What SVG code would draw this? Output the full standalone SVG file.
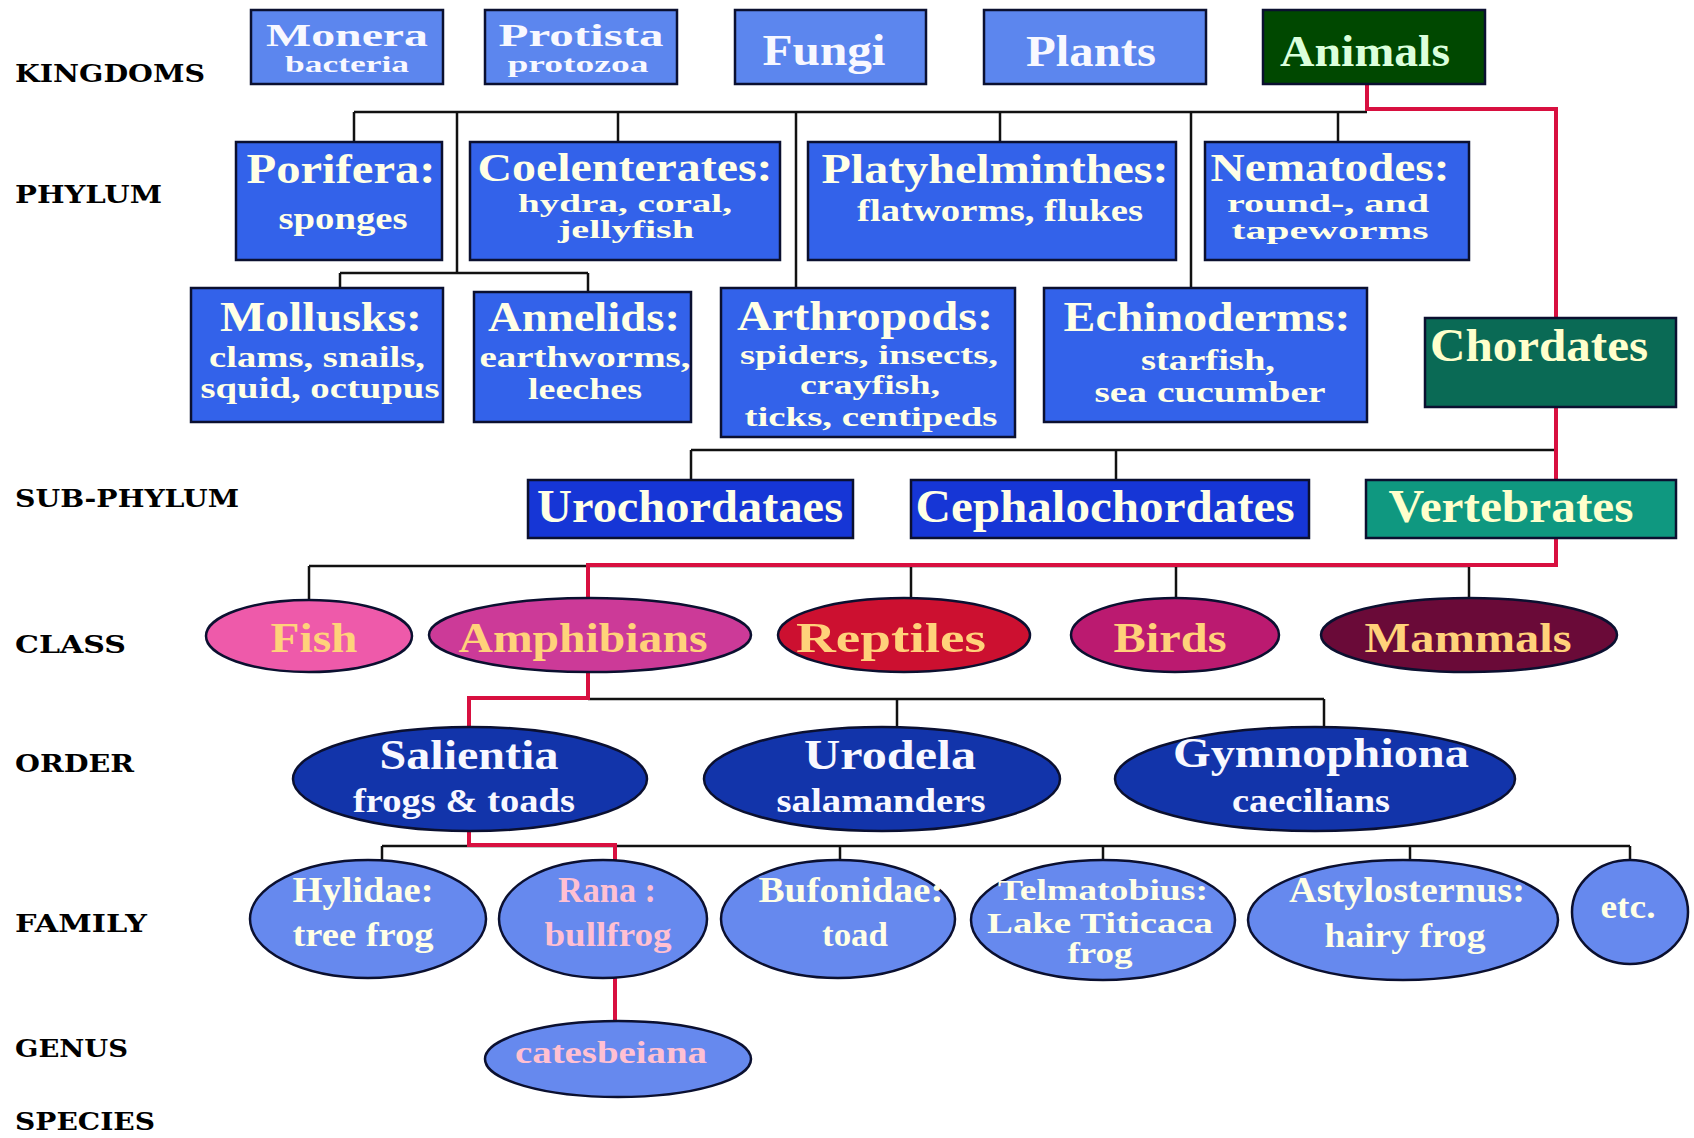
<svg xmlns="http://www.w3.org/2000/svg" width="1694" height="1138" viewBox="0 0 1694 1138">
<style>
.box{stroke:#0b1030;stroke-width:2.5}
.k{fill:#5c86ee}
.p{fill:#3362ea}
.sp{fill:#1636d6}
.fam{fill:#6689ee}
.ord{fill:#1234aa}
.blk{fill:none;stroke:#111;stroke-width:2.5}
.red{fill:none;stroke:#d81040;stroke-width:4}
text{font-family:"Liberation Serif","Times New Roman",serif;font-weight:bold;text-anchor:middle}
.w{fill:#f8f8ff}
.y{fill:#ffffe6}
.c{fill:#ffd27a}
.pk{fill:#ffc0d2}
.lbl{font-family:"DejaVu Serif",serif;font-weight:900;fill:#000;text-anchor:start;font-size:25px}
</style>
<rect width="1694" height="1138" fill="#ffffff"/>

<g id="row-labels">
<text class="lbl" x="15" y="82" textLength="190" lengthAdjust="spacingAndGlyphs">KINGDOMS</text>
<text class="lbl" x="15" y="203" textLength="147" lengthAdjust="spacingAndGlyphs">PHYLUM</text>
<text class="lbl" x="15" y="507" textLength="224" lengthAdjust="spacingAndGlyphs">SUB-PHYLUM</text>
<text class="lbl" x="15" y="653" textLength="111" lengthAdjust="spacingAndGlyphs">CLASS</text>
<text class="lbl" x="15" y="772" textLength="119" lengthAdjust="spacingAndGlyphs">ORDER</text>
<text class="lbl" x="15" y="932" textLength="132" lengthAdjust="spacingAndGlyphs">FAMILY</text>
<text class="lbl" x="15" y="1057" textLength="113" lengthAdjust="spacingAndGlyphs">GENUS</text>
<text class="lbl" x="15" y="1130" textLength="140" lengthAdjust="spacingAndGlyphs">SPECIES</text>
</g>

<g id="connectors">
<path class="blk" d="M354,112 H1367 M354,112 V142 M457,112 V273 M618,112 V142 M796,112 V288 M1000,112 V142 M1191,112 V288 M1338,112 V142"/>
<path class="blk" d="M340,273 H588 M340,273 V288 M588,273 V292"/>
<path class="blk" d="M691,450 H1556 M691,450 V480 M1116,450 V480"/>
<path class="blk" d="M309,566 H1469 M309,566 V600 M911,566 V599 M1176,566 V599 M1469,566 V599"/>
<path class="blk" d="M588,699 H1324 M897,699 V727 M1324,699 V727"/>
<path class="blk" d="M382,846 H1630 M382,846 V861 M840,846 V861 M1103,846 V861 M1410,846 V861 M1630,846 V861"/>
<path class="red" d="M1367,84 V109 H1556 V565 H588 V598"/>
<path class="red" d="M588,672 V698 H469 V727"/>
<path class="red" d="M469,832 V845 H615 V861"/>
<path class="red" d="M615,978 V1022"/>
</g>

<g id="monera"><rect class="box k" x="251" y="10" width="192" height="74"/>
<text class="w" x="347" y="46" font-size="32" textLength="162" lengthAdjust="spacingAndGlyphs">Monera</text>
<text class="w" x="347" y="72" font-size="24" textLength="124" lengthAdjust="spacingAndGlyphs">bacteria</text></g>
<g id="protista"><rect class="box k" x="485" y="10" width="192" height="74"/>
<text class="w" x="581" y="46" font-size="32" textLength="165" lengthAdjust="spacingAndGlyphs">Protista</text>
<text class="w" x="578" y="72" font-size="24" textLength="141" lengthAdjust="spacingAndGlyphs">protozoa</text></g>
<g id="fungi"><rect class="box k" x="735" y="10" width="191" height="74"/>
<text class="w" x="824" y="65" font-size="44" textLength="123" lengthAdjust="spacingAndGlyphs">Fungi</text></g>
<g id="plants"><rect class="box k" x="984" y="10" width="222" height="74"/>
<text class="w" x="1091" y="66" font-size="44" textLength="130" lengthAdjust="spacingAndGlyphs">Plants</text></g>
<g id="animals"><rect class="box" fill="#004800" x="1263" y="10" width="222" height="74"/>
<text fill="#dcffdc" x="1365" y="66" font-size="44" textLength="170" lengthAdjust="spacingAndGlyphs">Animals</text></g>

<g id="porifera"><rect class="box p" x="236" y="142" width="206" height="118"/>
<text class="y" x="341" y="183" font-size="42" textLength="189" lengthAdjust="spacingAndGlyphs">Porifera:</text>
<text class="y" x="343" y="229" font-size="32" textLength="129" lengthAdjust="spacingAndGlyphs">sponges</text></g>
<g id="coelenterates"><rect class="box p" x="470" y="142" width="310" height="118"/>
<text class="y" x="625" y="181" font-size="40" textLength="295" lengthAdjust="spacingAndGlyphs">Coelenterates:</text>
<text class="y" x="625" y="212" font-size="26" textLength="214" lengthAdjust="spacingAndGlyphs">hydra, coral,</text>
<text class="y" x="626" y="238" font-size="26" textLength="136" lengthAdjust="spacingAndGlyphs">jellyfish</text></g>
<g id="platyhelminthes"><rect class="box p" x="808" y="142" width="368" height="118"/>
<text class="y" x="995" y="183" font-size="42" textLength="347" lengthAdjust="spacingAndGlyphs">Platyhelminthes:</text>
<text class="y" x="1000" y="221" font-size="32" textLength="286" lengthAdjust="spacingAndGlyphs">flatworms, flukes</text></g>
<g id="nematodes"><rect class="box p" x="1205" y="142" width="264" height="118"/>
<text class="y" x="1330" y="181" font-size="40" textLength="239" lengthAdjust="spacingAndGlyphs">Nematodes:</text>
<text class="y" x="1328" y="212" font-size="26" textLength="202" lengthAdjust="spacingAndGlyphs">round-, and</text>
<text class="y" x="1330" y="239" font-size="26" textLength="197" lengthAdjust="spacingAndGlyphs">tapeworms</text></g>

<g id="mollusks"><rect class="box p" x="191" y="288" width="252" height="134"/>
<text class="y" x="321" y="331" font-size="42" textLength="202" lengthAdjust="spacingAndGlyphs">Mollusks:</text>
<text class="y" x="317" y="367" font-size="30" textLength="216" lengthAdjust="spacingAndGlyphs">clams, snails,</text>
<text class="y" x="320" y="398" font-size="30" textLength="239" lengthAdjust="spacingAndGlyphs">squid, octupus</text></g>
<g id="annelids"><rect class="box p" x="474" y="292" width="217" height="130"/>
<text class="y" x="584" y="331" font-size="42" textLength="192" lengthAdjust="spacingAndGlyphs">Annelids:</text>
<text class="y" x="585" y="367" font-size="30" textLength="211" lengthAdjust="spacingAndGlyphs">earthworms,</text>
<text class="y" x="585" y="399" font-size="30" textLength="114" lengthAdjust="spacingAndGlyphs">leeches</text></g>
<g id="arthropods"><rect class="box p" x="721" y="288" width="294" height="149"/>
<text class="y" x="865" y="330" font-size="42" textLength="256" lengthAdjust="spacingAndGlyphs">Arthropods:</text>
<text class="y" x="869" y="364" font-size="28" textLength="258" lengthAdjust="spacingAndGlyphs">spiders, insects,</text>
<text class="y" x="870" y="394" font-size="28" textLength="140" lengthAdjust="spacingAndGlyphs">crayfish,</text>
<text class="y" x="871" y="426" font-size="28" textLength="253" lengthAdjust="spacingAndGlyphs">ticks, centipeds</text></g>
<g id="echinoderms"><rect class="box p" x="1044" y="288" width="323" height="134"/>
<text class="y" x="1207" y="331" font-size="42" textLength="287" lengthAdjust="spacingAndGlyphs">Echinoderms:</text>
<text class="y" x="1208" y="370" font-size="30" textLength="134" lengthAdjust="spacingAndGlyphs">starfish,</text>
<text class="y" x="1210" y="402" font-size="30" textLength="231" lengthAdjust="spacingAndGlyphs">sea cucumber</text></g>
<g id="chordates"><rect class="box" fill="#0a6a55" x="1425" y="318" width="251" height="89"/>
<text fill="#ffffcc" x="1539" y="361" font-size="46" textLength="218" lengthAdjust="spacingAndGlyphs">Chordates</text></g>

<g id="urochordataes"><rect class="box sp" x="528" y="480" width="325" height="58"/>
<text class="y" x="690" y="522" font-size="46" textLength="306" lengthAdjust="spacingAndGlyphs">Urochordataes</text></g>
<g id="cephalochordates"><rect class="box sp" x="911" y="480" width="398" height="58"/>
<text class="y" x="1105" y="522" font-size="46" textLength="379" lengthAdjust="spacingAndGlyphs">Cephalochordates</text></g>
<g id="vertebrates"><rect class="box" fill="#0f9880" x="1366" y="480" width="310" height="58"/>
<text fill="#ffffcc" x="1511" y="522" font-size="46" textLength="245" lengthAdjust="spacingAndGlyphs">Vertebrates</text></g>

<g id="fish"><ellipse class="box" fill="#ee5aaa" cx="309" cy="636" rx="103" ry="36"/>
<text class="c" x="314" y="652" font-size="43" textLength="87" lengthAdjust="spacingAndGlyphs">Fish</text></g>
<g id="amphibians"><ellipse class="box" fill="#cc3a98" cx="590" cy="635" rx="161" ry="37"/>
<text class="c" x="583" y="652" font-size="43" textLength="249" lengthAdjust="spacingAndGlyphs">Amphibians</text></g>
<g id="reptiles"><ellipse class="box" fill="#cc1030" cx="904" cy="635" rx="126" ry="37"/>
<text class="c" x="891" y="652" font-size="43" textLength="190" lengthAdjust="spacingAndGlyphs">Reptiles</text></g>
<g id="birds"><ellipse class="box" fill="#bb1a70" cx="1175" cy="635" rx="104" ry="37"/>
<text class="c" x="1170" y="652" font-size="43" textLength="113" lengthAdjust="spacingAndGlyphs">Birds</text></g>
<g id="mammals"><ellipse class="box" fill="#6a0a38" cx="1469" cy="635" rx="148" ry="37"/>
<text class="c" x="1468" y="652" font-size="43" textLength="207" lengthAdjust="spacingAndGlyphs">Mammals</text></g>

<g id="salientia"><ellipse class="box ord" cx="470" cy="779" rx="177" ry="52"/>
<text class="w" x="469" y="769" font-size="42" textLength="179" lengthAdjust="spacingAndGlyphs">Salientia</text>
<text class="w" x="464" y="812" font-size="33" textLength="222" lengthAdjust="spacingAndGlyphs">frogs &amp; toads</text></g>
<g id="urodela"><ellipse class="box ord" cx="882" cy="779" rx="178" ry="52"/>
<text class="w" x="890" y="769" font-size="42" textLength="172" lengthAdjust="spacingAndGlyphs">Urodela</text>
<text class="w" x="881" y="812" font-size="33" textLength="209" lengthAdjust="spacingAndGlyphs">salamanders</text></g>
<g id="gymnophiona"><ellipse class="box ord" cx="1315" cy="779" rx="200" ry="52"/>
<text class="w" x="1321" y="767" font-size="42" textLength="296" lengthAdjust="spacingAndGlyphs">Gymnophiona</text>
<text class="w" x="1311" y="812" font-size="33" textLength="158" lengthAdjust="spacingAndGlyphs">caecilians</text></g>

<g id="hylidae"><ellipse class="box fam" cx="368" cy="919" rx="118" ry="59"/>
<text class="y" x="363" y="902" font-size="36" textLength="141" lengthAdjust="spacingAndGlyphs">Hylidae:</text>
<text class="y" x="363" y="946" font-size="34" textLength="141" lengthAdjust="spacingAndGlyphs">tree frog</text></g>
<g id="rana"><ellipse class="box fam" cx="603" cy="919" rx="104" ry="59"/>
<text class="pk" x="607" y="902" font-size="36" textLength="98" lengthAdjust="spacingAndGlyphs">Rana :</text>
<text class="pk" x="608" y="946" font-size="34" textLength="127" lengthAdjust="spacingAndGlyphs">bullfrog</text></g>
<g id="bufonidae"><ellipse class="box fam" cx="838" cy="919" rx="117" ry="59"/>
<text class="y" x="851" y="902" font-size="36" textLength="185" lengthAdjust="spacingAndGlyphs">Bufonidae:</text>
<text class="y" x="855" y="946" font-size="34" textLength="66" lengthAdjust="spacingAndGlyphs">toad</text></g>
<g id="telmatobius"><ellipse class="box fam" cx="1103" cy="920" rx="132" ry="60"/>
<text class="y" x="1103" y="900" font-size="30" textLength="210" lengthAdjust="spacingAndGlyphs">Telmatobius:</text>
<text class="y" x="1100" y="933" font-size="29" textLength="226" lengthAdjust="spacingAndGlyphs">Lake Titicaca</text>
<text class="y" x="1100" y="963" font-size="29" textLength="65" lengthAdjust="spacingAndGlyphs">frog</text></g>
<g id="astylosternus"><ellipse class="box fam" cx="1403" cy="920" rx="155" ry="60"/>
<text class="y" x="1407" y="902" font-size="36" textLength="236" lengthAdjust="spacingAndGlyphs">Astylosternus:</text>
<text class="y" x="1405" y="947" font-size="34" textLength="161" lengthAdjust="spacingAndGlyphs">hairy frog</text></g>
<g id="etc"><ellipse class="box fam" cx="1630" cy="912" rx="58" ry="52"/>
<text class="y" x="1628" y="918" font-size="34" textLength="55" lengthAdjust="spacingAndGlyphs">etc.</text></g>

<g id="catesbeiana"><ellipse class="box fam" cx="618" cy="1059" rx="133" ry="38"/>
<text class="pk" x="611" y="1063" font-size="31" textLength="192" lengthAdjust="spacingAndGlyphs">catesbeiana</text></g>
</svg>
